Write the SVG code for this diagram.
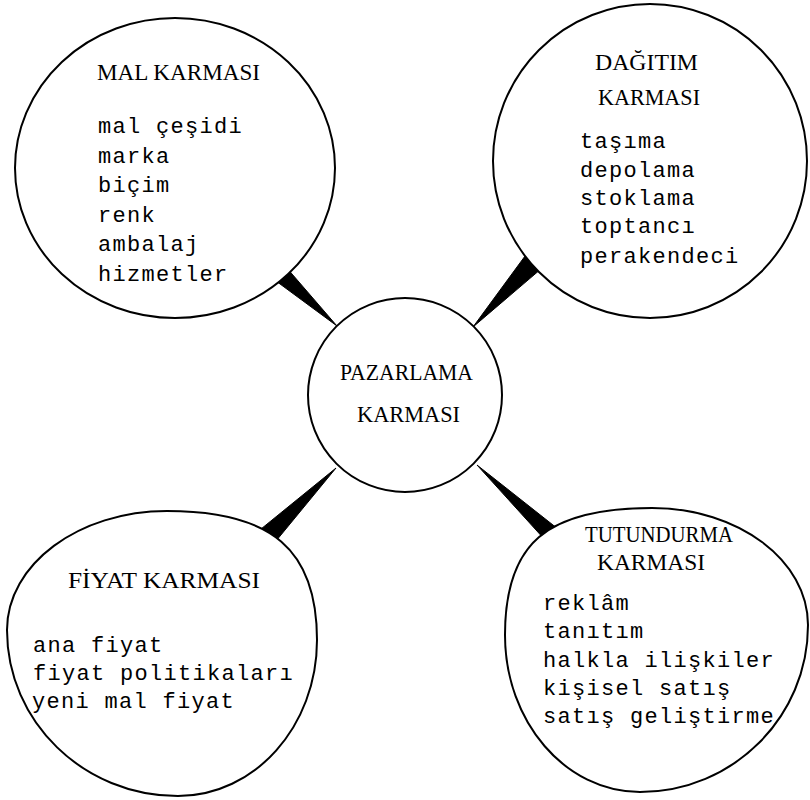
<svg xmlns="http://www.w3.org/2000/svg" width="810" height="800" viewBox="0 0 810 800">
<style>
.c{fill:#fff;stroke:#000;stroke-width:2}
.h{font-family:"Liberation Serif",serif;font-size:24px;fill:#000}
.t{font-family:"Liberation Mono",monospace;font-size:22px;letter-spacing:1.3px;fill:#000}
.w{fill:#000;stroke:#000;stroke-width:1;stroke-linejoin:round}
</style>
<rect width="810" height="800" fill="#fff"/>
<g id="connectors">
<polygon class="w" points="257,267 273,252 337,326"/>
<polygon class="w" points="539,237 555,257 473,327"/>
<polygon class="w" points="245,542 262,558 336,468"/>
<polygon class="w" points="556,552 572,540 477,465"/>
</g>
<g id="mal">
<ellipse class="c" cx="175" cy="168" rx="160" ry="150"/>
<text class="h" x="97" y="80" textLength="163" lengthAdjust="spacingAndGlyphs">MAL KARMASI</text>
<text class="t" x="98" y="133">mal çeşidi</text>
<text class="t" x="98" y="163">marka</text>
<text class="t" x="98" y="192">biçim</text>
<text class="t" x="98" y="222">renk</text>
<text class="t" x="98" y="251">ambalaj</text>
<text class="t" x="98" y="281">hizmetler</text>
</g>
<g id="dagitim">
<circle class="c" cx="650" cy="161" r="157"/>
<text class="h" x="595" y="70" textLength="103" lengthAdjust="spacingAndGlyphs">DAĞITIM</text>
<text class="h" x="598" y="105" textLength="102" lengthAdjust="spacingAndGlyphs">KARMASI</text>
<text class="t" x="580" y="148">taşıma</text>
<text class="t" x="580" y="177">depolama</text>
<text class="t" x="580" y="205">stoklama</text>
<text class="t" x="580" y="233">toptancı</text>
<text class="t" x="580" y="263">perakendeci</text>
</g>
<g id="pazarlama">
<circle class="c" cx="405" cy="395" r="97"/>
<text class="h" x="340" y="380" textLength="133" lengthAdjust="spacingAndGlyphs">PAZARLAMA</text>
<text class="h" x="357" y="422" textLength="103" lengthAdjust="spacingAndGlyphs">KARMASI</text>
</g>
<g id="fiyat">
<path class="c" d="M167,511 C272,511 317,549.7 317,640 C317,726.2 254.8,796 178,796 C83.6,796 7,721.7 7,630 C7,564.3 78.6,511 167,511 Z"/>
<text class="h" x="68" y="588" textLength="192" lengthAdjust="spacingAndGlyphs">FİYAT KARMASI</text>
<text class="t" x="33" y="652">ana fiyat</text>
<text class="t" x="33" y="680">fiyat politikaları</text>
<text class="t" x="32" y="708">yeni mal fiyat</text>
</g>
<g id="tutundurma">
<path class="c" d="M652,508 C738.2,508 808,560.4 808,625 C808,717.2 732.8,792 640,792 C565.4,792 505,721.7 505,635 C505,543.6 546.2,508 652,508 Z"/>
<text class="h" x="585" y="542" textLength="148" lengthAdjust="spacingAndGlyphs">TUTUNDURMA</text>
<text class="h" x="597" y="570" textLength="108" lengthAdjust="spacingAndGlyphs">KARMASI</text>
<text class="t" x="543" y="610">reklâm</text>
<text class="t" x="543" y="638">tanıtım</text>
<text class="t" x="543" y="667">halkla ilişkiler</text>
<text class="t" x="543" y="695">kişisel satış</text>
<text class="t" x="543" y="723">satış geliştirme</text>
</g>
</svg>
